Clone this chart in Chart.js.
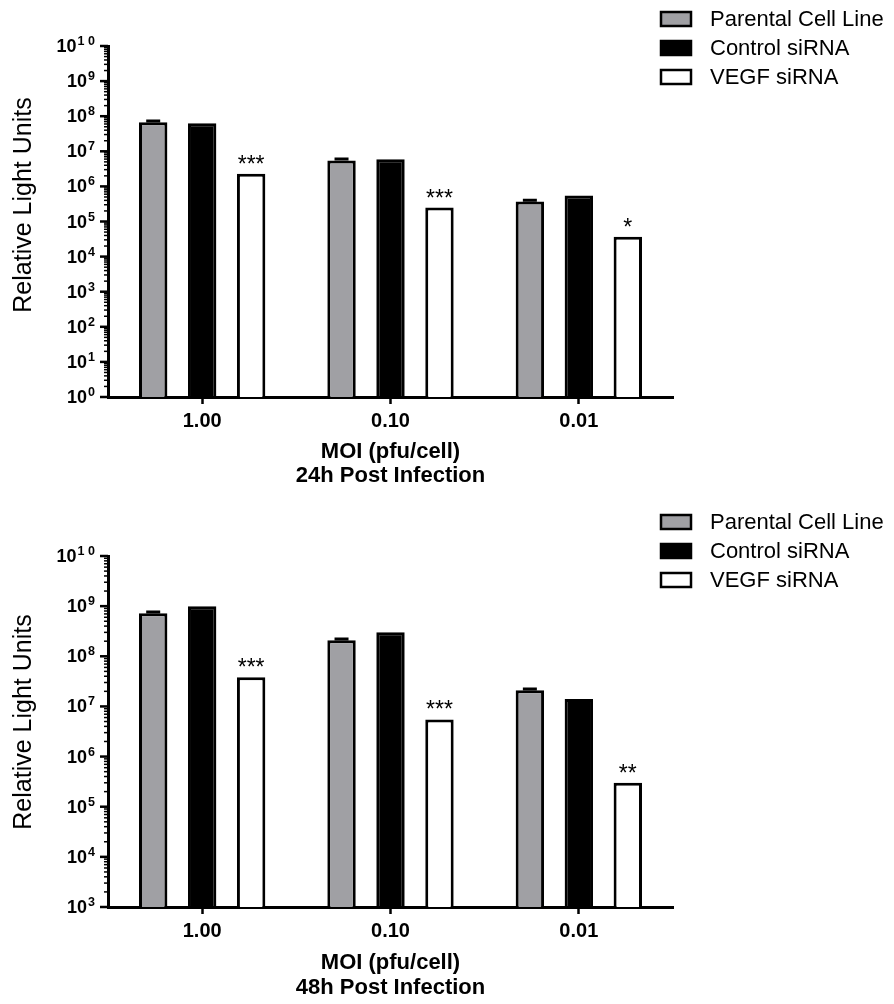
<!DOCTYPE html>
<html>
<head>
<meta charset="utf-8">
<script src="https://cdn.jsdelivr.net/npm/chart.js@4.4.0/dist/chart.umd.min.js"></script>
<style>
  body { margin: 0; background: #fff; width: 894px; height: 1004px; overflow: hidden; position: relative; }
  canvas { position: absolute; left: 0; }
</style>
</head>
<body>
<canvas id="chart24" width="894" height="500" style="top:0px"></canvas>
<canvas id="chart48" width="894" height="504" style="top:500px"></canvas>
<script>
// categorias e séries
const categorias = ['1.00', '0.10', '0.01'];
const nomesSeries = ['Parental Cell Line', 'Control siRNA', 'VEGF siRNA'];

const parental24 = [6.7e7, 5.5e6, 3.7e5];
const controle24 = [6.3e7, 5.9e6, 5.5e5];
const vegf24 = [2.3e6, 2.5e5, 3.7e4];
const erroParental24 = [0.6e7, 0.5e6, 0.35e5];
const asteriscos24 = ['***', '***', '*'];

const parental48 = [7.2e8, 2.1e8, 2.1e7];
const controle48 = [1.0e9, 3.0e8, 1.4e7];
const vegf48 = [3.8e7, 5.5e6, 3.0e5];
const erroParental48 = [0.4e8, 0.12e8, 0.12e7];
const asteriscos48 = ['***', '***', '**'];

const FONTE = "'Liberation Sans', Arial, sans-serif";
const coresFundo = ['#a0a0a4', '#000000', '#ffffff'];

/**
 * Desenha eixo Y logarítmico (ticks maiores, menores e rótulos 10^n)
 */
const pluginEixoLog = {
  id: 'eixoLog',
  afterDraw(chart) {
    const ctx = chart.ctx;
    const y = chart.scales.y;
    const left = chart.chartArea.left;
    const eMin = Math.round(Math.log10(y.min));
    const eMax = Math.round(Math.log10(y.max));
    ctx.save();
    ctx.strokeStyle = '#000';
    for (let e = eMin; e <= eMax; e++) {
      const py = y.getPixelForValue(Math.pow(10, e));
      ctx.lineWidth = 2.5;
      ctx.beginPath();
      ctx.moveTo(left - 8, py);
      ctx.lineTo(left, py);
      ctx.stroke();
      if (e < eMax) {
        ctx.lineWidth = 1.5;
        for (let m = 2; m <= 9; m++) {
          const pm = y.getPixelForValue(m * Math.pow(10, e));
          ctx.beginPath();
          ctx.moveTo(left - 4, pm);
          ctx.lineTo(left, pm);
          ctx.stroke();
        }
      }
      // rótulo 10^e
      ctx.fillStyle = '#000';
      ctx.textBaseline = 'alphabetic';
      ctx.textAlign = 'right';
      const exp = String(e).split('').join(e >= 10 ? ' ' : '');
      ctx.font = 'bold 12.5px ' + FONTE;
      const wExp = ctx.measureText(exp).width;
      ctx.fillText(exp, left - 13, py - 1);
      ctx.font = 'bold 18px ' + FONTE;
      ctx.fillText('10', left - 14 - wExp, py + 6);
    }
    ctx.restore();
  }
};

/**
 * Barras de erro, asteriscos, legenda e títulos
 */
function criarPluginExtras(erros, asteriscos, tituloX2, legendaTopo, yTituloY, dyTitulos) {
  return {
    id: 'extras',
    afterDatasetsDraw(chart) {
      const ctx = chart.ctx;
      const y = chart.scales.y;
      const area = chart.chartArea;
      ctx.save();

      // barras de erro (só Parental)
      const meta0 = chart.getDatasetMeta(0);
      const dados0 = chart.data.datasets[0].data;
      ctx.strokeStyle = '#000';
      ctx.lineWidth = 3;
      meta0.data.forEach((bar, i) => {
        const topo = y.getPixelForValue(dados0[i] + erros[i]);
        ctx.beginPath();
        ctx.moveTo(bar.x, bar.y);
        ctx.lineTo(bar.x, topo);
        ctx.moveTo(bar.x - 7, topo);
        ctx.lineTo(bar.x + 7, topo);
        ctx.stroke();
      });

      // asteriscos sobre VEGF siRNA
      const meta2 = chart.getDatasetMeta(2);
      ctx.fillStyle = '#000';
      ctx.font = '23px ' + FONTE;
      ctx.textAlign = 'center';
      ctx.textBaseline = 'alphabetic';
      meta2.data.forEach((bar, i) => {
        ctx.fillText(asteriscos[i], bar.x, bar.y - 2);
      });

      // legenda
      ctx.font = '22px ' + FONTE;
      ctx.textAlign = 'left';
      ctx.textBaseline = 'middle';
      chart.data.datasets.forEach((ds, i) => {
        const cy = legendaTopo + i * 29;
        ctx.fillStyle = ds.backgroundColor;
        ctx.fillRect(661, cy - 7, 30, 14);
        ctx.lineWidth = 2.5;
        ctx.strokeStyle = '#000';
        ctx.strokeRect(661, cy - 7, 30, 14);
        ctx.fillStyle = '#000';
        ctx.fillText(ds.label, 710, cy + 1);
      });

      // título eixo Y
      ctx.save();
      ctx.translate(24, yTituloY);
      ctx.rotate(-Math.PI / 2);
      ctx.textAlign = 'center';
      ctx.font = '25px ' + FONTE;
      ctx.fillText('Relative Light Units', 0, 0);
      ctx.restore();

      // títulos eixo X
      const cx = (area.left + area.right) / 2;
      ctx.textAlign = 'center';
      ctx.font = 'bold 22px ' + FONTE;
      ctx.fillText('MOI (pfu/cell)', cx, area.bottom + dyTitulos[0]);
      ctx.fillText(tituloX2, cx, area.bottom + dyTitulos[1]);

      ctx.restore();
    }
  };
}

function criarGrafico(id, valores, erros, asteriscos, yMin, alturaX, topo, tituloX2, legendaTopo, yTituloY, dyTitulos) {
  return new Chart(document.getElementById(id), {
    type: 'bar',
    data: {
      labels: categorias,
      datasets: valores.map((serie, i) => ({
        label: nomesSeries[i],
        data: serie,
        backgroundColor: coresFundo[i],
        borderColor: '#000',
        borderWidth: 3,
        categoryPercentage: 0.78,
        barPercentage: 0.58
      }))
    },
    options: {
      responsive: false,
      animation: false,
      events: [],
      layout: { padding: { left: 0, right: 221, top: topo, bottom: 0 } },
      plugins: { legend: { display: false }, tooltip: { enabled: false } },
      scales: {
        x: {
          grid: { display: true, drawOnChartArea: false, offset: false, tickLength: 7, tickWidth: 2.5, tickColor: '#000' },
          border: { display: true, width: 3, color: '#000' },
          ticks: { color: '#000', padding: 5, font: { family: FONTE, size: 20, weight: 'bold' } },
          afterFit: s => { s.height = alturaX; }
        },
        y: {
          type: 'logarithmic',
          min: yMin,
          max: 1e10,
          grid: { display: false },
          border: { display: true, width: 3, color: '#000' },
          ticks: { display: false },
          afterFit: s => { s.width = 108; }
        }
      }
    },
    plugins: [pluginEixoLog, criarPluginExtras(erros, asteriscos, tituloX2, legendaTopo, yTituloY, dyTitulos)]
  });
}

criarGrafico('chart24', [parental24, controle24, vegf24], erroParental24, asteriscos24,
  1, 103, 46, '24h Post Infection', 19, 205, [55, 79]);
criarGrafico('chart48', [parental48, controle48, vegf48], erroParental48, asteriscos48,
  1e3, 97, 56, '48h Post Infection', 22, 222, [56, 81]);
</script>
</body>
</html>
